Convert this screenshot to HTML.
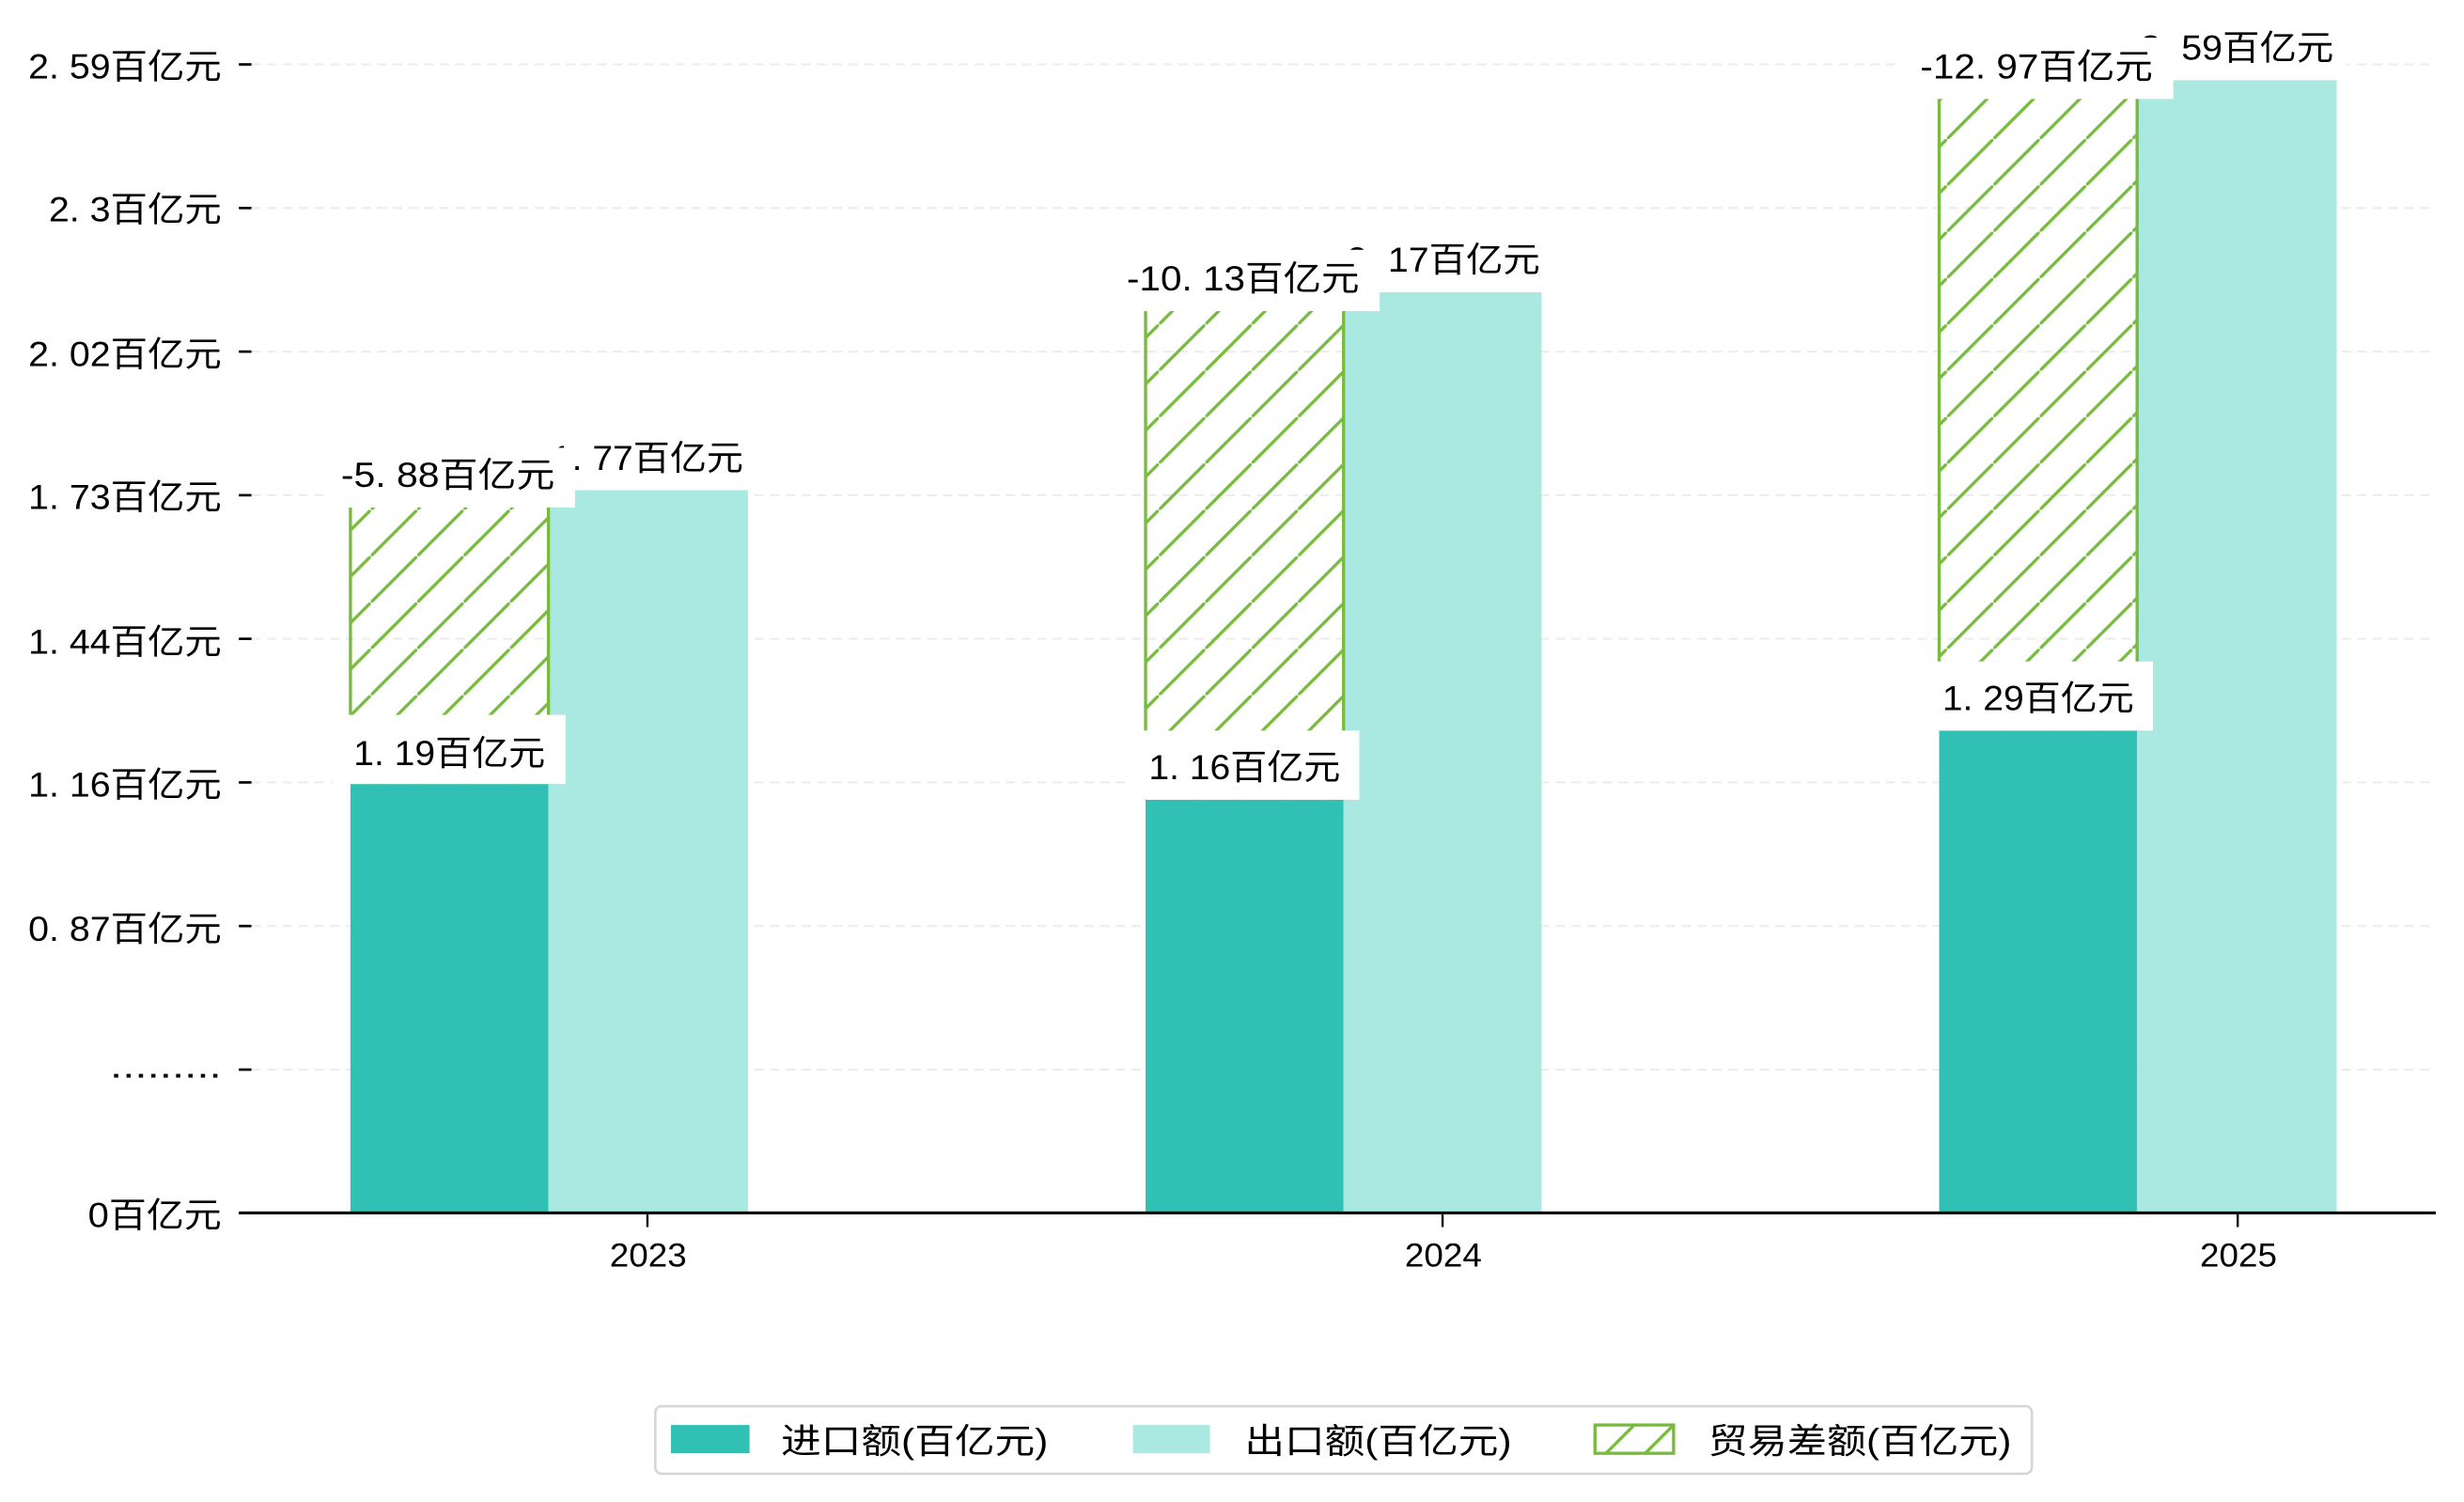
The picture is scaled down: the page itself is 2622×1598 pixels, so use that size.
<!DOCTYPE html>
<html><head><meta charset="utf-8"><style>
html,body{margin:0;padding:0;background:#fff;}
svg{display:block;}
text{font-family:"WenQuanYi Zen Hei","Liberation Sans","Noto Sans CJK SC",sans-serif;fill:#000;}
</style></head><body>
<svg width="2622" height="1598" viewBox="0 0 1568 956" preserveAspectRatio="none" xmlns="http://www.w3.org/2000/svg">
<defs>
<pattern id="h" patternUnits="userSpaceOnUse" width="29.5" height="29.5">
<path d="M-3,32.5 L32.5,-3" stroke="#78bb3f" stroke-width="2"/>
</pattern>
<pattern id="hl" patternUnits="userSpaceOnUse" width="25" height="25" x="1015" y="907">
<path d="M-2,27 L27,-2" stroke="#78bb3f" stroke-width="2"/>
</pattern>
</defs>
<rect width="1568" height="956" fill="#fff"/>
<g stroke="#ececec" stroke-width="1.2" stroke-dasharray="6,4">
<line x1="160" x2="1550" y1="41" y2="41"/>
<line x1="160" x2="1550" y1="132.4" y2="132.4"/>
<line x1="160" x2="1550" y1="223.8" y2="223.8"/>
<line x1="160" x2="1550" y1="315.2" y2="315.2"/>
<line x1="160" x2="1550" y1="406.6" y2="406.6"/>
<line x1="160" x2="1550" y1="498" y2="498"/>
<line x1="160" x2="1550" y1="589.4" y2="589.4"/>
<line x1="160" x2="1550" y1="680.8" y2="680.8"/>
</g>
<g stroke="#000" stroke-width="1.6">
<line x1="152" x2="160" y1="41" y2="41"/>
<line x1="152" x2="160" y1="132.4" y2="132.4"/>
<line x1="152" x2="160" y1="223.8" y2="223.8"/>
<line x1="152" x2="160" y1="315.2" y2="315.2"/>
<line x1="152" x2="160" y1="406.6" y2="406.6"/>
<line x1="152" x2="160" y1="498" y2="498"/>
<line x1="152" x2="160" y1="589.4" y2="589.4"/>
<line x1="152" x2="160" y1="680.8" y2="680.8"/>
</g>
<g font-size="22">
<text x="18" y="50" textLength="123" lengthAdjust="spacingAndGlyphs">2. 59百亿元</text>
<text x="31" y="141" textLength="110" lengthAdjust="spacingAndGlyphs">2. 3百亿元</text>
<text x="18" y="233" textLength="123" lengthAdjust="spacingAndGlyphs">2. 02百亿元</text>
<text x="18" y="324" textLength="123" lengthAdjust="spacingAndGlyphs">1. 73百亿元</text>
<text x="18" y="416" textLength="123" lengthAdjust="spacingAndGlyphs">1. 44百亿元</text>
<text x="18" y="507" textLength="123" lengthAdjust="spacingAndGlyphs">1. 16百亿元</text>
<text x="18" y="599" textLength="123" lengthAdjust="spacingAndGlyphs">0. 87百亿元</text>
<text x="70" y="686" textLength="71" lengthAdjust="spacingAndGlyphs">.........</text>
<text x="56" y="781" textLength="85" lengthAdjust="spacingAndGlyphs">0百亿元</text>
</g>
<g>
<rect x="223" y="499" width="126" height="273" fill="#30c1b4"/>
<rect x="349" y="312" width="127" height="460" fill="#aae8e2"/>
<rect x="223" y="312" width="126" height="187" fill="url(#h)"/>
<line x1="223" x2="223" y1="312" y2="499" stroke="#78bb3f" stroke-width="2"/>
<line x1="349" x2="349" y1="312" y2="499" stroke="#78bb3f" stroke-width="2"/>

<rect x="729" y="509" width="126" height="263" fill="#30c1b4"/>
<rect x="855" y="186" width="126" height="586" fill="#aae8e2"/>
<rect x="729" y="186" width="126" height="323" fill="url(#h)"/>
<line x1="729" x2="729" y1="186" y2="509" stroke="#78bb3f" stroke-width="2"/>
<line x1="855" x2="855" y1="186" y2="509" stroke="#78bb3f" stroke-width="2"/>

<rect x="1234" y="465" width="126" height="307" fill="#30c1b4"/>
<rect x="1360" y="51" width="127" height="721" fill="#aae8e2"/>
<rect x="1234" y="51" width="126" height="414" fill="url(#h)"/>
<line x1="1234" x2="1234" y1="51" y2="465" stroke="#78bb3f" stroke-width="2"/>
<line x1="1360" x2="1360" y1="51" y2="465" stroke="#78bb3f" stroke-width="2"/>
</g>
<g font-size="22">
<rect x="342" y="274" width="140" height="38" fill="#fff"/>
<text x="351" y="299" textLength="122" lengthAdjust="spacingAndGlyphs">1. 77百亿元</text>
<rect x="210" y="285" width="156" height="38" fill="#fff"/>
<text x="217" y="310" textLength="136" lengthAdjust="spacingAndGlyphs">-5. 88百亿元</text>
<rect x="212" y="455" width="148" height="44" fill="#fff"/>
<text x="225" y="487" textLength="122" lengthAdjust="spacingAndGlyphs">1. 19百亿元</text>

<rect x="848" y="148" width="140" height="38" fill="#fff"/>
<text x="857" y="173" textLength="123" lengthAdjust="spacingAndGlyphs">2. 17百亿元</text>
<rect x="705" y="159" width="173" height="39" fill="#fff"/>
<text x="717" y="185" textLength="148" lengthAdjust="spacingAndGlyphs">-10. 13百亿元</text>
<rect x="718" y="465" width="147" height="44" fill="#fff"/>
<text x="731" y="496" textLength="122" lengthAdjust="spacingAndGlyphs">1. 16百亿元</text>

<rect x="1353" y="13" width="140" height="38" fill="#fff"/>
<text x="1362" y="38" textLength="123" lengthAdjust="spacingAndGlyphs">2. 59百亿元</text>
<rect x="1210" y="24" width="173" height="39" fill="#fff"/>
<text x="1222" y="50" textLength="148" lengthAdjust="spacingAndGlyphs">-12. 97百亿元</text>
<rect x="1223" y="421" width="147" height="44" fill="#fff"/>
<text x="1236" y="452" textLength="122" lengthAdjust="spacingAndGlyphs">1. 29百亿元</text>
</g>
<line x1="152" x2="1550" y1="772" y2="772" stroke="#000" stroke-width="1.8"/>
<g stroke="#000" stroke-width="1.4">
<line x1="412" x2="412" y1="772" y2="781"/>
<line x1="918" x2="918" y1="772" y2="781"/>
<line x1="1424" x2="1424" y1="772" y2="781"/>
</g>
<g font-size="21">
<text x="388" y="806" textLength="49" lengthAdjust="spacingAndGlyphs">2023</text>
<text x="894" y="806" textLength="49" lengthAdjust="spacingAndGlyphs">2024</text>
<text x="1400" y="806" textLength="49" lengthAdjust="spacingAndGlyphs">2025</text>
</g>
<rect x="417" y="895" width="876" height="43" rx="4" fill="#fff" stroke="#d6d6d6" stroke-width="1.6"/>
<rect x="427" y="907" width="50" height="18" fill="#30c1b4"/>
<rect x="721" y="907" width="49" height="18" fill="#aae8e2"/>
<rect x="1015" y="907" width="50" height="18" fill="url(#hl)" stroke="#78bb3f" stroke-width="2"/>
<g font-size="22">
<text x="497" y="925" textLength="170" lengthAdjust="spacingAndGlyphs">进口额(百亿元)</text>
<text x="792" y="925" textLength="170" lengthAdjust="spacingAndGlyphs">出口额(百亿元)</text>
<text x="1087" y="925" textLength="193" lengthAdjust="spacingAndGlyphs">贸易差额(百亿元)</text>
</g>
</svg>
</body></html>
